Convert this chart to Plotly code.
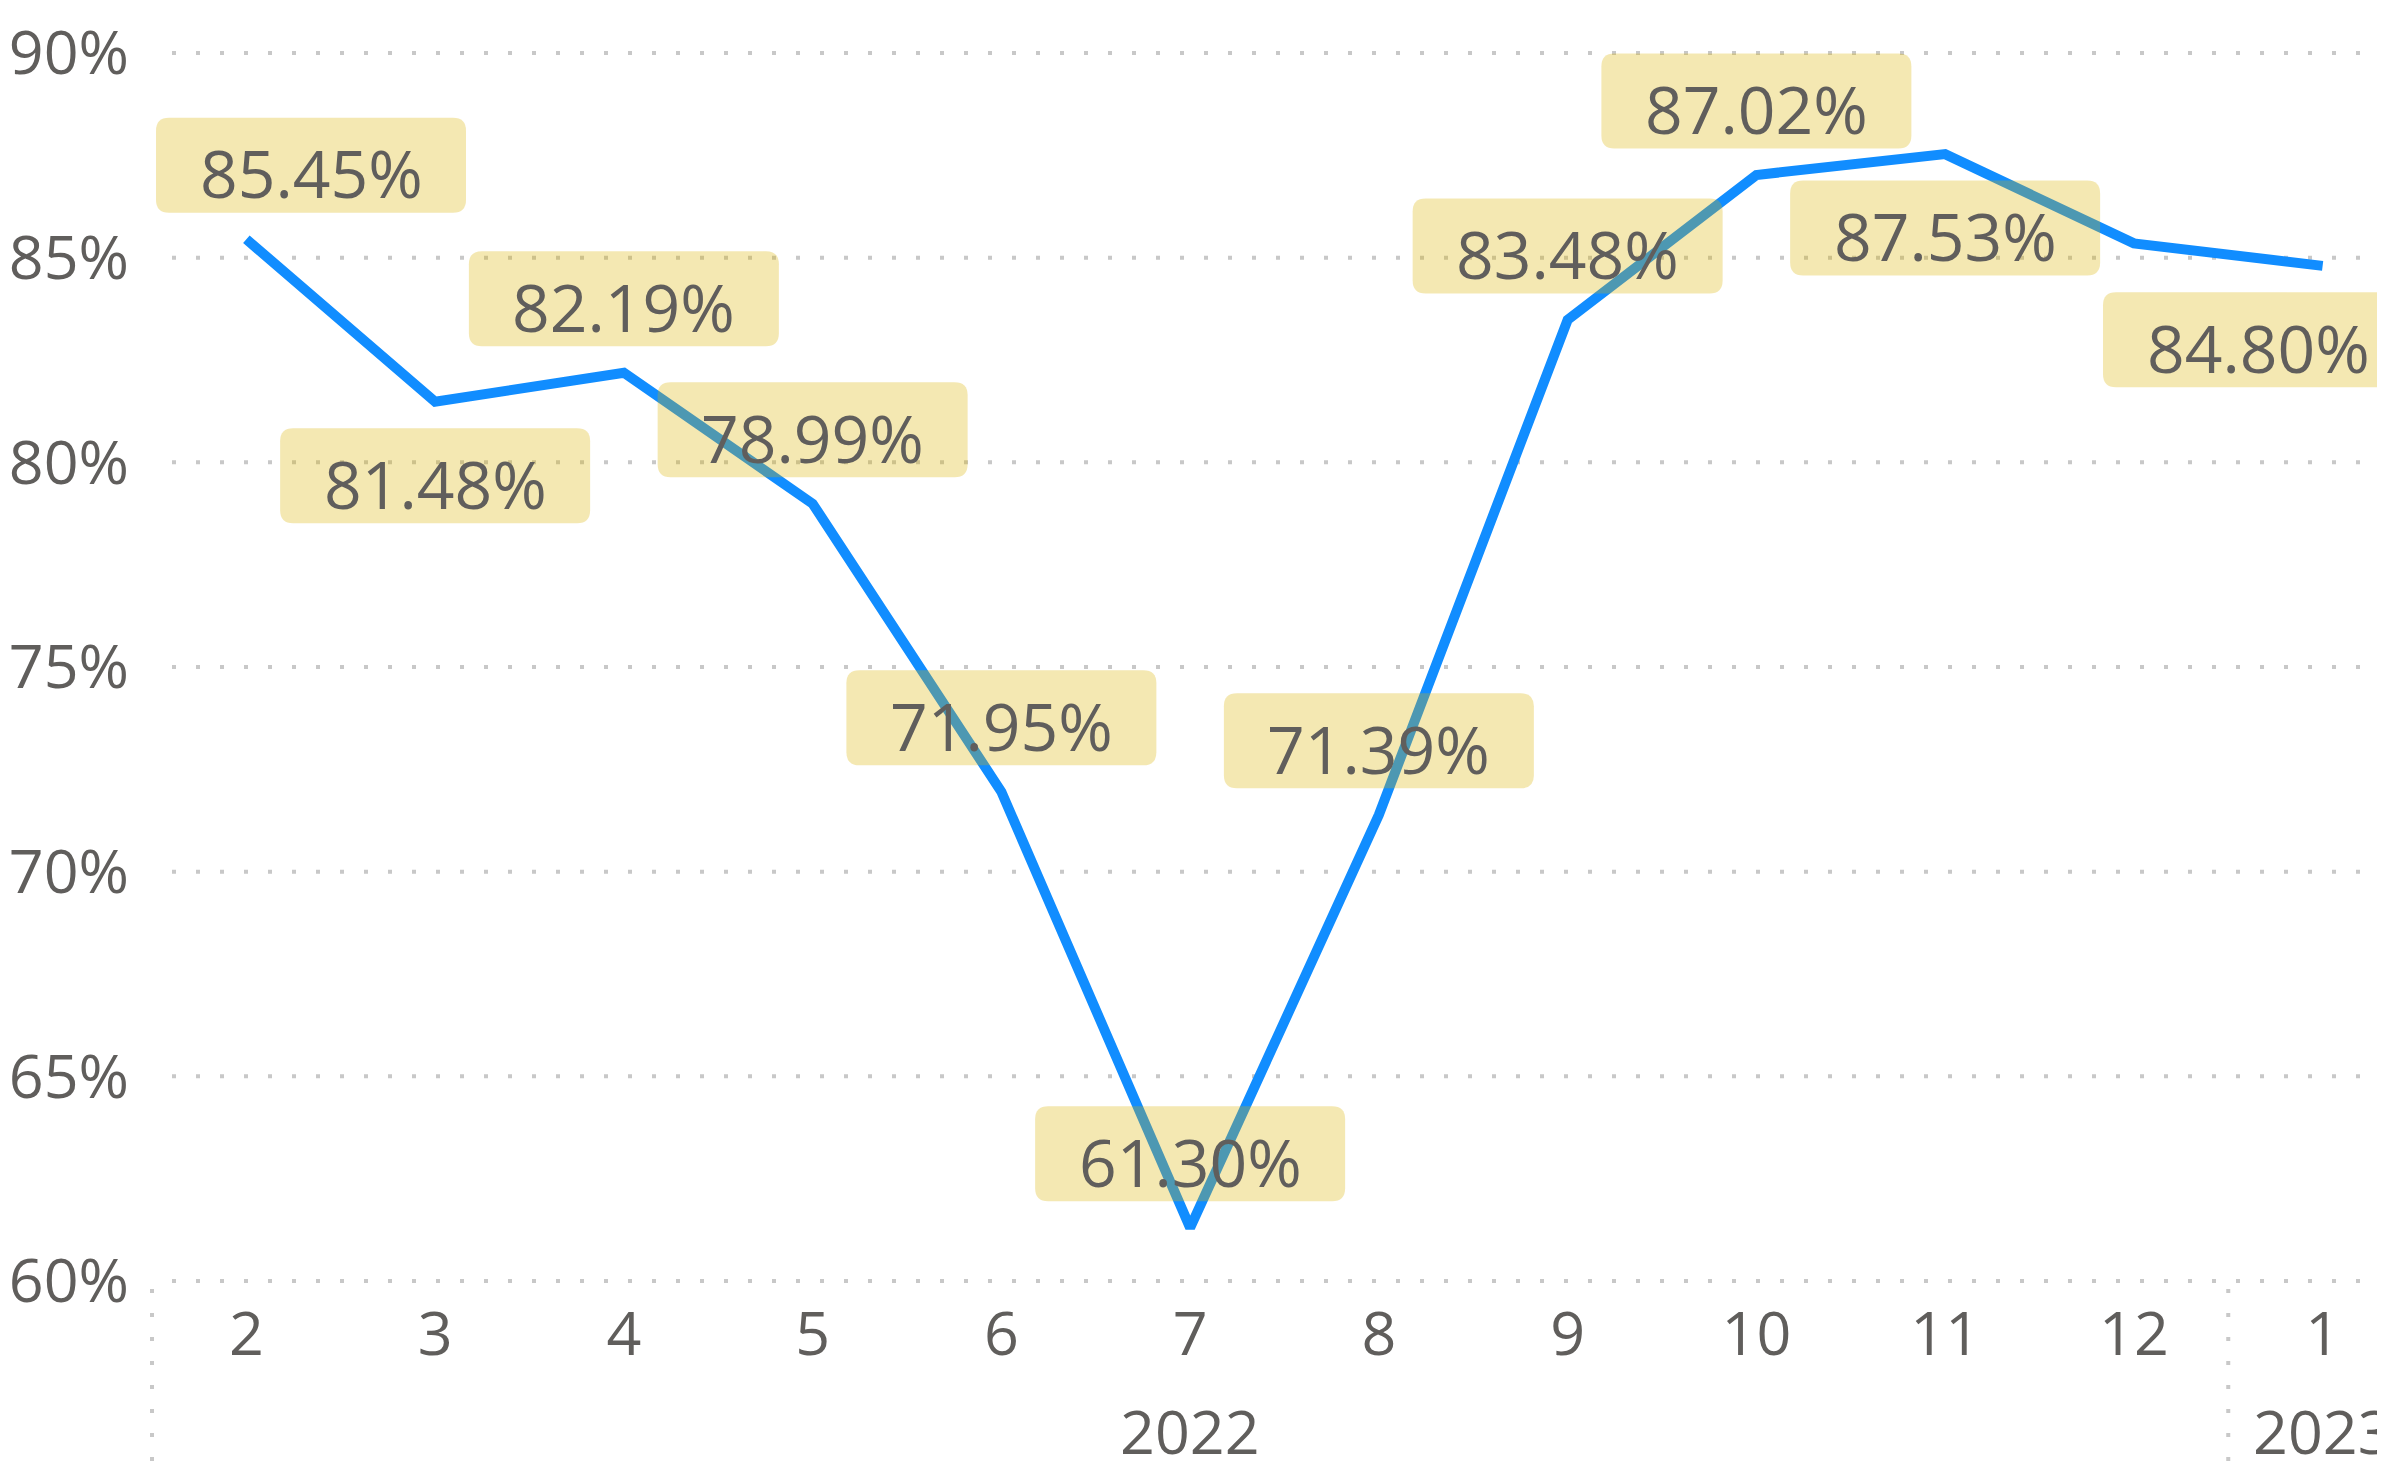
import plotly.graph_objects as go

# ---------------- data ----------------
months = ["2", "3", "4", "5", "6", "7", "8", "9", "10", "11", "12", "1"]
years = ["2022"] * 11 + ["2023"]
values = [85.45, 81.48, 82.19, 78.99, 71.95, 61.30, 71.39, 83.48, 87.02, 87.53, 85.35, 84.80]
label_shown = [True, True, True, True, True, True, True, True, True, True, False, True]
label_side = ["above", "below", "above", "above", "above", "above", "above", "above",
              "above", "below", "above", "below"]
y_ticks = [60, 65, 70, 75, 80, 85, 90]
y_tick_text = [f"{t}%" for t in y_ticks]

# ---------------- geometry / style ----------------
W, H = 2385, 1465
PAGE = 8                      # default body margin of the html page
ML = 152 - PAGE               # plot left edge on screen = 152
MT = 53 - PAGE                # plot top on screen = 53
PLOT_BOTTOM = 1281 - PAGE     # plot bottom on screen = 1281
MB = H - PLOT_BOTTOM
plot_w = W - ML
plot_h = H - MT - MB
band = 188.75
x_lo = -0.5
x_hi = x_lo + plot_w / band
y_lo, y_hi = 60, 90

FONT = "Open Sans"
TXT = "#605E5C"
GRID = "#C8C8C8"
LINE = "#118DFF"
BOX = "rgba(217,179,0,0.30)"


def xpx(i):
    return ML + (i - x_lo) * band


def xdom(i):
    return (i - x_lo) / (x_hi - x_lo)


idx = list(range(len(months)))

fig = go.Figure()
fig.add_trace(go.Scatter(
    x=idx, y=values, mode="lines",
    line=dict(color=LINE, width=10),
    hoverinfo="skip", cliponaxis=False, showlegend=False,
))

shapes = []
annotations = []

# gridlines (dotted, starting a little right of the plot edge)
for t in y_ticks:
    yf = (t - y_lo) / (y_hi - y_lo)
    shapes.append(dict(type="line", xref="x domain", yref="y domain",
                       x0=20 / plot_w, x1=1, y0=yf, y1=yf,
                       line=dict(color=GRID, width=4, dash="4px,20px"), layer="below"))

# vertical separators under the axis (left edge and year boundary)
y_bot = -(H - PLOT_BOTTOM) / plot_h
y_top = -8 / plot_h
seps = [x_lo]
for i in range(1, len(years)):
    if years[i] != years[i - 1]:
        seps.append(i - 0.5)
for s in seps:
    shapes.append(dict(type="line", xref="x domain", yref="paper",
                       x0=xdom(s), x1=xdom(s), y0=y_top, y1=y_bot,
                       line=dict(color=GRID, width=4, dash="4px,20px"), layer="below"))

# year labels
groups = []
for i, yv in enumerate(years):
    if not groups or groups[-1][0] != yv:
        groups.append([yv, i, i])
    else:
        groups[-1][2] = i
year_y = -(1430 - PAGE - PLOT_BOTTOM) / plot_h
for yv, a, b in groups:
    annotations.append(dict(x=(a + b) / 2, xref="x", y=year_y, yref="paper",
                            text=yv, showarrow=False, yanchor="middle",
                            font=dict(family=FONT, size=61, color=TXT)))

# data labels with rounded boxes
box_w, box_h, rad = 310, 95, 13
off = 74
left_lim = xpx(-0.5) + 4
right_lim = xpx(len(months) - 0.5) - 4
for i, v in enumerate(values):
    if not label_shown[i]:
        continue
    cx = xpx(i)
    sx = 0.0
    if cx - box_w / 2 < left_lim:
        sx = left_lim - (cx - box_w / 2)
    if cx + box_w / 2 > right_lim:
        sx = right_lim - (cx + box_w / 2)
    dy = off if label_side[i] == "above" else -off
    l, r_ = sx - box_w / 2, sx + box_w / 2
    b, t = dy - box_h / 2, dy + box_h / 2
    path = (f"M {l+rad},{b} L {r_-rad},{b} Q {r_},{b} {r_},{b+rad} "
            f"L {r_},{t-rad} Q {r_},{t} {r_-rad},{t} L {l+rad},{t} "
            f"Q {l},{t} {l},{t-rad} L {l},{b+rad} Q {l},{b} {l+rad},{b} Z")
    shapes.append(dict(type="path", xref="x", yref="y", xsizemode="pixel", ysizemode="pixel",
                       xanchor=i, yanchor=v, path=path,
                       fillcolor=BOX, line=dict(width=0), layer="above"))
    annotations.append(dict(x=i, y=v, xref="x", yref="y", text=f"{v:.2f}%",
                            showarrow=False, xshift=sx, yshift=dy - 7,
                            font=dict(family=FONT, size=66, color=TXT)))

fig.update_layout(
    width=W, height=H,
    margin=dict(l=ML, r=0, t=MT, b=MB, pad=0),
    paper_bgcolor="white", plot_bgcolor="white",
    shapes=shapes, annotations=annotations,
    xaxis=dict(range=[x_lo, x_hi], tickmode="array", tickvals=idx, ticktext=months,
               showgrid=False, zeroline=False, showline=False, ticks="",
               automargin=False,
               tickfont=dict(family=FONT, size=61, color=TXT),
               ticklabelstandoff=12),
    yaxis=dict(range=[y_lo, y_hi], tickmode="array", tickvals=y_ticks, ticktext=y_tick_text,
               showgrid=False, zeroline=False, showline=False, ticks="",
               automargin=False,
               tickfont=dict(family=FONT, size=61, color=TXT),
               ticklabelstandoff=22),
)

fig.write_html("out.html")
